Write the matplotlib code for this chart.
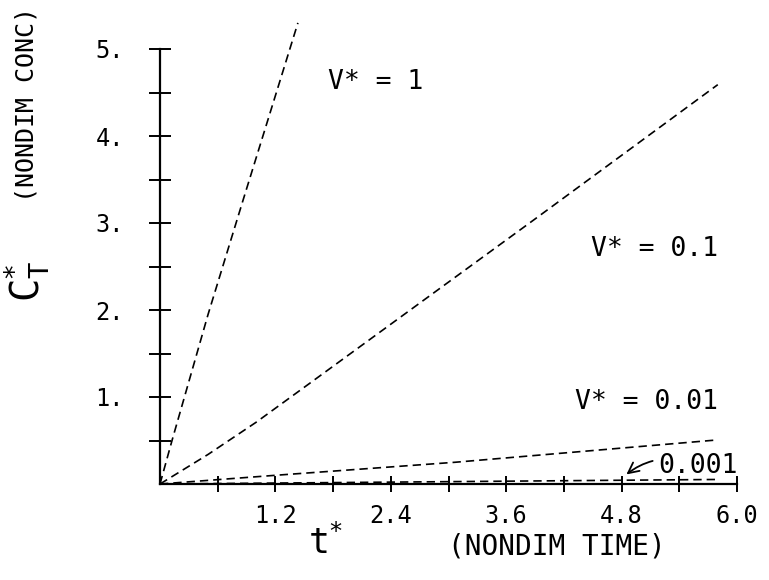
import matplotlib.pyplot as plt
from matplotlib.ticker import FixedLocator

plt.rcParams['font.family'] = ['DejaVu Sans Mono']
plt.rcParams['mathtext.fontset'] = 'dejavusans'

# values (t*, C*_T)
t_v1 = [0.0, 0.125, 0.5, 0.863, 1.434]
c_v1 = [0.0, 0.5, 1.95, 3.26, 5.30]
t_v01 = [0.0, 0.5, 1.0, 1.56, 3.88, 5.80]
c_v01 = [0.0, 0.34, 0.71, 1.16, 3.03, 4.59]
t_v001 = [0.0, 1.2, 3.07, 5.79]
c_v001 = [0.0, 0.10, 0.25, 0.506]
t_v0001 = [0.0, 2.0, 4.0, 5.79]
c_v0001 = [0.0, 0.018, 0.036, 0.052]

x_major = [1.2, 2.4, 3.6, 4.8, 6.0]
x_labels = ['1.2', '2.4', '3.6', '4.8', '6.0']
y_major = [1, 2, 3, 4, 5]
y_labels = ['1.', '2.', '3.', '4.', '5.']

fig = plt.figure(figsize=(7.69, 5.80), dpi=100)
ax = fig.add_axes([160 / 769, 96 / 580, 577 / 769, 474 / 580])

dash = (0, (5, 3))
for t, c in [(t_v1, c_v1), (t_v01, c_v01), (t_v001, c_v001), (t_v0001, c_v0001)]:
    ax.plot(t, c, color='black', lw=1.2, linestyle=dash, clip_on=False)

ax.set_xlim(0, 6.0)
ax.set_ylim(0, 474 / 87)

for s in ['top', 'right']:
    ax.spines[s].set_visible(False)
ax.spines['left'].set_bounds(0, 5)
ax.spines['bottom'].set_bounds(0, 6.0)
ax.spines['left'].set_linewidth(1.6)
ax.spines['bottom'].set_linewidth(1.6)

ax.xaxis.set_major_locator(FixedLocator(x_major))
ax.set_xticklabels(x_labels)
ax.xaxis.set_minor_locator(FixedLocator([0.6, 1.8, 3.0, 4.2, 5.4]))
ax.yaxis.set_major_locator(FixedLocator(y_major))
ax.set_yticklabels(y_labels)
ax.yaxis.set_minor_locator(FixedLocator([0.5, 1.5, 2.5, 3.5, 4.5]))

ax.tick_params(which='both', direction='inout', width=1.4, color='black')
ax.tick_params(axis='x', which='both', length=11, pad=9, labelsize=17)
ax.tick_params(axis='y', which='both', length=16, pad=18, labelsize=17)

ax.text(1.75, 4.62, 'V* = 1', fontsize=19, ha='left', va='center')
ax.text(5.8, 2.70, 'V* = 0.1', fontsize=19, ha='right', va='center')
ax.text(5.8, 0.94, 'V* = 0.01', fontsize=19, ha='right', va='center')
ax.annotate('0.001', xy=(4.85, 0.11), xytext=(5.18, 0.21), fontsize=19,
            ha='left', va='center',
            arrowprops=dict(arrowstyle='->', color='black', lw=1.3,
                            connectionstyle='arc3,rad=0.3', shrinkA=2, shrinkB=0))

fig.text(325 / 769, 1 - 543 / 580, r'$\mathtt{t}^{*}$', fontsize=25, ha='center', va='center')
fig.text(557 / 769, 1 - 547 / 580, '(NONDIM TIME)', fontsize=20, ha='center', va='center')
fig.text(27 / 769, 1 - 281 / 580, r'$\mathtt{C}^{*}_{\mathtt{T}}$', fontsize=28,
         rotation=90, ha='center', va='center')
fig.text(27 / 769, 1 - 105 / 580, '(NONDIM CONC)', fontsize=18,
         rotation=90, ha='center', va='center')

fig.savefig('out.png', dpi=100)
